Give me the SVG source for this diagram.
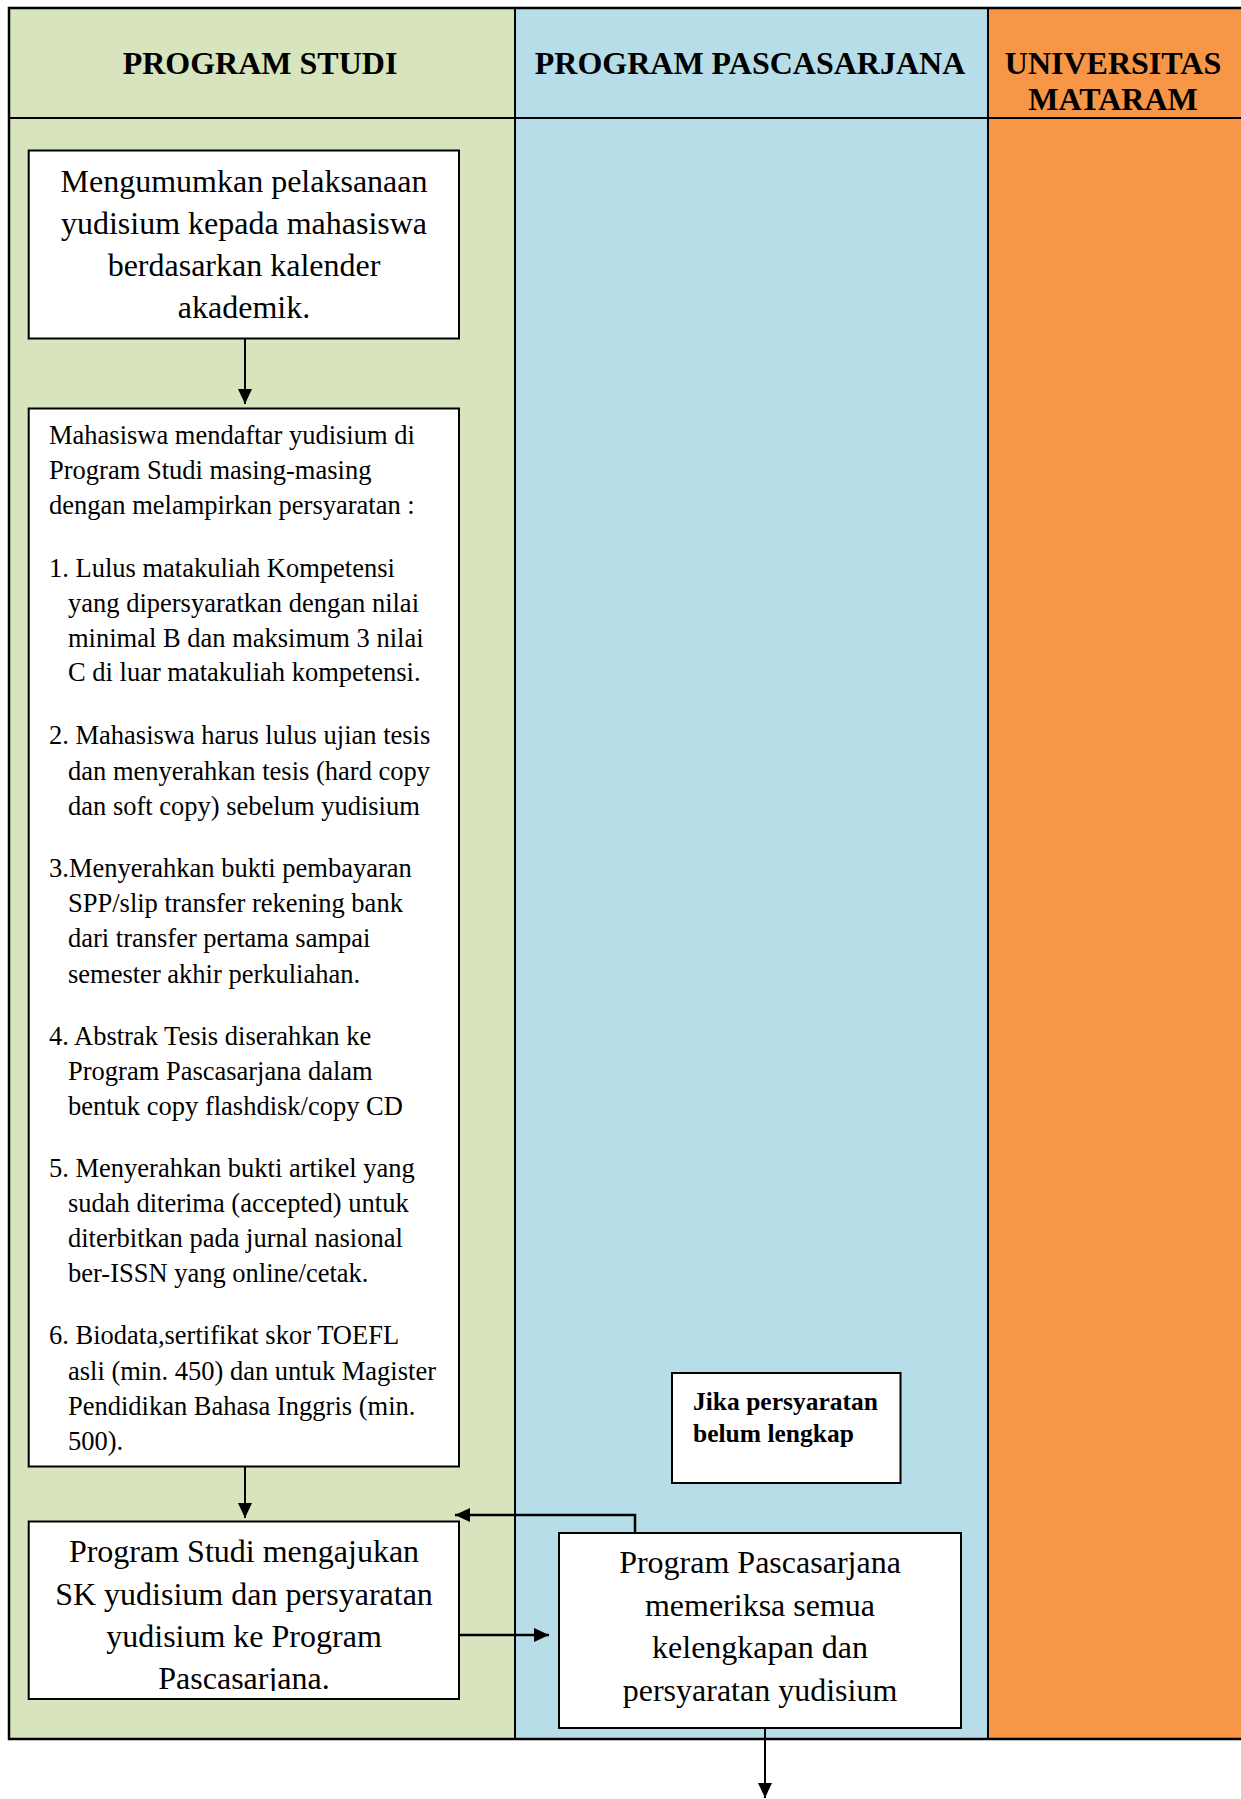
<svg xmlns="http://www.w3.org/2000/svg" width="1241" height="1799" viewBox="0 0 1241 1799">
<style>
.box{fill:#ffffff;stroke:#000;stroke-width:2}
.t{font-family:"Liberation Serif","Times New Roman",serif;fill:#000}
.h{font-size:32px;font-weight:bold;text-anchor:middle}
.big{font-size:32px;text-anchor:middle}
.sm{font-size:26.5px}
.bold{font-size:25.5px;font-weight:bold}
.ln{fill:none;stroke:#000;stroke-width:2}
.lnt{fill:none;stroke:#000;stroke-width:2.5}
</style>
<defs>
<marker id="ah" markerUnits="userSpaceOnUse" markerWidth="16" markerHeight="14" refX="15" refY="7" orient="auto">
<path d="M0,0 L15,7 L0,14 Z" fill="#000"/>
</marker>
<clipPath id="c3"><rect x="29" y="1522" width="429" height="169"/></clipPath>
</defs>
<g id="lanes">
<rect x="9" y="8" width="506" height="1731" fill="#D7E4BD"/>
<rect x="515" y="8" width="473" height="1731" fill="#B7DDE8"/>
<rect x="988" y="8" width="253" height="1731" fill="#F79646"/>
<path d="M1241,8 H9 V1739 H1241" fill="none" stroke="#000" stroke-width="2.5"/>
<line x1="9" y1="118" x2="1241" y2="118" stroke="#000" stroke-width="2"/>
<line x1="515" y1="8" x2="515" y2="1739" stroke="#000" stroke-width="2"/>
<line x1="988" y1="8" x2="988" y2="1739" stroke="#000" stroke-width="2"/>
<text class="t h" x="260" y="74">PROGRAM STUDI</text>
<text class="t h" x="750" y="74">PROGRAM PASCASARJANA</text>
<text class="t h" x="1113" y="74">UNIVERSITAS</text>
<text class="t h" x="1113" y="110">MATARAM</text>
</g>
<g id="connectors">
<line class="ln" x1="245" y1="339" x2="245" y2="404" marker-end="url(#ah)"/>
<line class="ln" x1="245" y1="1467" x2="245" y2="1518" marker-end="url(#ah)"/>
<line class="lnt" x1="459" y1="1635" x2="549" y2="1635" marker-end="url(#ah)"/>
<polyline class="lnt" points="635,1533 635,1515 455,1515" marker-end="url(#ah)"/>
<line class="ln" x1="765" y1="1728" x2="765" y2="1798" marker-end="url(#ah)"/>
</g>
<g id="node1">
<rect class="box" x="28.7" y="150.5" width="430.3" height="188"/>
<text class="t big" x="244" y="192">Mengumumkan pelaksanaan</text>
<text class="t big" x="244" y="234">yudisium kepada mahasiswa</text>
<text class="t big" x="244" y="276">berdasarkan kalender</text>
<text class="t big" x="244" y="318">akademik.</text>
</g>
<g id="node2">
<rect class="box" x="28.7" y="408.5" width="430.3" height="1058"/>
<text class="t sm" x="49">
<tspan x="49" y="444">Mahasiswa mendaftar yudisium di</tspan>
<tspan x="49" y="479">Program Studi masing-masing</tspan>
<tspan x="49" y="514">dengan melampirkan persyaratan :</tspan>
<tspan x="49" y="577">1. Lulus matakuliah Kompetensi</tspan>
<tspan x="68" y="612">yang dipersyaratkan dengan nilai</tspan>
<tspan x="68" y="647">minimal B dan maksimum 3 nilai</tspan>
<tspan x="68" y="681">C di luar matakuliah kompetensi.</tspan>
<tspan x="49" y="744">2. Mahasiswa harus lulus ujian tesis</tspan>
<tspan x="68" y="780">dan menyerahkan tesis (hard copy</tspan>
<tspan x="68" y="815">dan soft copy) sebelum yudisium</tspan>
<tspan x="49" y="877">3.Menyerahkan bukti pembayaran</tspan>
<tspan x="68" y="912">SPP/slip transfer rekening bank</tspan>
<tspan x="68" y="947">dari transfer pertama sampai</tspan>
<tspan x="68" y="983">semester akhir perkuliahan.</tspan>
<tspan x="49" y="1045">4. Abstrak Tesis diserahkan ke</tspan>
<tspan x="68" y="1080">Program Pascasarjana dalam</tspan>
<tspan x="68" y="1115">bentuk copy flashdisk/copy CD</tspan>
<tspan x="49" y="1177">5. Menyerahkan bukti artikel yang</tspan>
<tspan x="68" y="1212">sudah diterima (accepted) untuk</tspan>
<tspan x="68" y="1247">diterbitkan pada jurnal nasional</tspan>
<tspan x="68" y="1282">ber-ISSN yang online/cetak.</tspan>
<tspan x="49" y="1344">6. Biodata,sertifikat skor TOEFL</tspan>
<tspan x="68" y="1380">asli (min. 450) dan untuk Magister</tspan>
<tspan x="68" y="1415">Pendidikan Bahasa Inggris (min.</tspan>
<tspan x="68" y="1450">500).</tspan>
</text>
</g>
<g id="node3">
<rect class="box" x="28.7" y="1521.5" width="430.3" height="177.5"/>
<g clip-path="url(#c3)">
<text class="t big" x="244" y="1562">Program Studi mengajukan</text>
<text class="t big" x="244" y="1605">SK yudisium dan persyaratan</text>
<text class="t big" x="244" y="1647">yudisium ke Program</text>
<text class="t big" x="244" y="1689">Pascasarjana.</text>
</g>
</g>
<g id="node4">
<rect class="box" x="672" y="1373" width="228.5" height="110"/>
<text class="t bold" x="693" y="1410">Jika persyaratan</text>
<text class="t bold" x="693" y="1442">belum lengkap</text>
</g>
<g id="node5">
<rect class="box" x="559" y="1533" width="402" height="195"/>
<text class="t big" x="760" y="1573">Program Pascasarjana</text>
<text class="t big" x="760" y="1616">memeriksa semua</text>
<text class="t big" x="760" y="1658">kelengkapan dan</text>
<text class="t big" x="760" y="1701">persyaratan yudisium</text>
</g>
</svg>
